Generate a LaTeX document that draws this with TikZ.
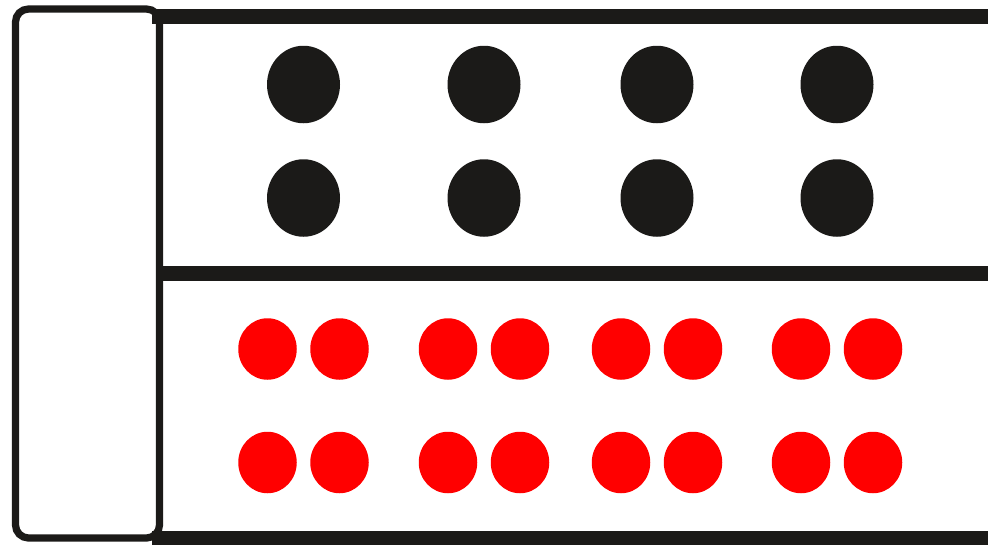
\documentclass[tikz,border=0pt]{standalone}
\usepackage{tikz}
\usetikzlibrary{shapes.geometric}
\usepackage{xcolor}
\definecolor{barblack}{RGB}{27,26,24}
\definecolor{dotred}{RGB}{255,0,0}

\begin{document}
\begin{tikzpicture}[
    x=0.2mm, y=-0.2mm,
    bigdot/.style={ellipse, fill=barblack, inner sep=0pt, outer sep=0pt,
                   minimum width=14.6mm, minimum height=15.5mm},
    smalldot/.style={ellipse, fill=dotred, inner sep=0pt, outer sep=0pt,
                     minimum width=11.7mm, minimum height=12.3mm},
    bar/.style={draw=barblack, line width=2.9mm},
    frame/.style={draw=barblack, line width=1.45mm, rounded corners=2.6mm}
]
    \useasboundingbox (0,0) rectangle (1000,549);
    % left box and the three rails
    \draw[frame] (15.5,9) rectangle (159.5,538);
    \coordinate (topL) at (152,16.5);   \coordinate (topR) at (988,16.5);
    \coordinate (midL) at (159.5,273.5); \coordinate (midR) at (988,273.5);
    \coordinate (botL) at (152,538);    \coordinate (botR) at (988,538);
    \draw[bar] (topL) -- (topR); \draw[bar] (midL) -- (midR); \draw[bar] (botL) -- (botR);
    % upper compartment
    \node[bigdot] (b1) at (303.5,84.5) {}; \node[bigdot] (b2) at (484,84.5) {};
    \node[bigdot] (b3) at (657,84.5) {};   \node[bigdot] (b4) at (837,84.5) {};
    \node[bigdot] (b5) at (303.5,198) {};  \node[bigdot] (b6) at (484,198) {};
    \node[bigdot] (b7) at (657,198) {};    \node[bigdot] (b8) at (837,198) {};
    % lower compartment
    \node[smalldot] (r1) at (267.5,349) {}; \node[smalldot] (r2) at (339.5,349) {};
    \node[smalldot] (r3) at (448,349) {};   \node[smalldot] (r4) at (520,349) {};
    \node[smalldot] (r5) at (621,349) {};   \node[smalldot] (r6) at (693,349) {};
    \node[smalldot] (r7) at (801,349) {};   \node[smalldot] (r8) at (873,349) {};
    \node[smalldot] (r9) at (267.5,462.5) {};  \node[smalldot] (r10) at (339.5,462.5) {};
    \node[smalldot] (r11) at (448,462.5) {};   \node[smalldot] (r12) at (520,462.5) {};
    \node[smalldot] (r13) at (621,462.5) {};   \node[smalldot] (r14) at (693,462.5) {};
    \node[smalldot] (r15) at (801,462.5) {};   \node[smalldot] (r16) at (873,462.5) {};
\end{tikzpicture}
\end{document}
